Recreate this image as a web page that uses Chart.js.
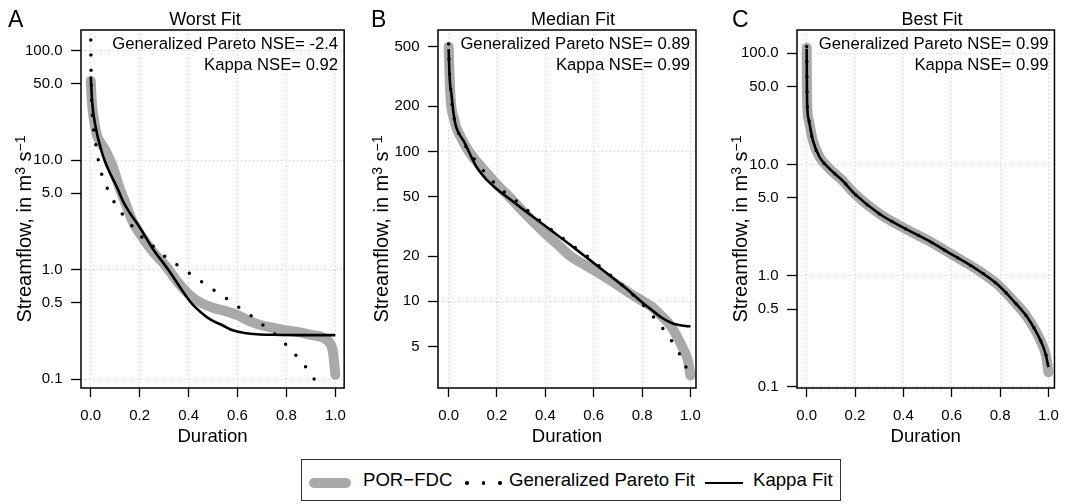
<!DOCTYPE html>
<html>
<head>
<meta charset="utf-8">
<script src="https://cdn.jsdelivr.net/npm/chart.js@4.4.1/dist/chart.umd.min.js"></script>
<style>
  body { margin: 0; background: #fff; }
  #wrap { position: relative; width: 1070px; height: 504px; overflow: hidden; background: #fff;
          font-family: "Liberation Sans", Arial, sans-serif; color: #000; }
  #wrap canvas { position: absolute; top: 0; }
  .ytitle { position: absolute; width: 240px; height: 24px; line-height: 24px; text-align: center;
            font-size: 20px; white-space: nowrap; transform: rotate(-90deg); transform-origin: 50% 50%; }
  .ytitle sup { font-size: 0.7em; line-height: 0; vertical-align: 0.45em; }
  #legend { position: absolute; left: 301px; top: 459px; width: 538px; height: 40px;
            border: 1.5px solid #333; font-size: 18.6px; }
  #legend span { position: absolute; top: 0; line-height: 40px; white-space: nowrap; }
  #legend .gray { top: 17.8px; height: 10px; width: 42px; border-radius: 5px; background: #a9a9a9; }
  #legend .dot { top: 21px; width: 3.5px; height: 3.5px; border-radius: 50%; background: #000; }
  #legend .solid { top: 21.5px; height: 2.6px; width: 38px; background: #000; }
</style>
</head>
<body>
<div id="wrap">
  <canvas id="chartA"></canvas>
  <canvas id="chartB"></canvas>
  <canvas id="chartC"></canvas>
  <div class="ytitle" style="left:-96px; top:217px">Streamflow, in m<sup>3</sup> s<sup>−1</sup></div>
  <div class="ytitle" style="left:261px; top:217px">Streamflow, in m<sup>3</sup> s<sup>−1</sup></div>
  <div class="ytitle" style="left:620px; top:217px">Streamflow, in m<sup>3</sup> s<sup>−1</sup></div>
  <div id="legend">
    <span class="gray" style="left:7px"></span>
    <span style="left:61px">POR−FDC</span>
    <span class="dot" style="left:163.2px"></span>
    <span class="dot" style="left:179.7px"></span>
    <span class="dot" style="left:196.2px"></span>
    <span style="left:207px">Generalized Pareto Fit</span>
    <span class="solid" style="left:403px"></span>
    <span style="left:451px">Kappa Fit</span>
  </div>
</div>
<script>
// ---------------- DATA ----------------
const durationTicks = [0, 0.2, 0.4, 0.6, 0.8, 1.0];
const durationTickLabels = ['0.0', '0.2', '0.4', '0.6', '0.8', '1.0'];

// Panel A - Worst Fit
const worstFlowTicks = [0.1, 0.5, 1, 5, 10, 50, 100];
const worstFlowTickLabels = ['0.1', '0.5', '1.0', '5.0', '10.0', '50.0', '100.0'];
const worstPorDur  = [0.000, 0.004, 0.015, 0.025, 0.040, 0.060, 0.090, 0.116, 0.143, 0.170, 0.200, 0.250, 0.310, 0.350, 0.400, 0.450, 0.500, 0.550, 0.600, 0.650, 0.700, 0.750, 0.800, 0.850, 0.900, 0.950, 0.980, 0.990, 1.000];
const worstPorFlow = [53, 35, 22, 17, 14.5, 12.3, 8.7, 5.7, 4.0, 2.8, 2.15, 1.5, 1.06, 0.8, 0.6, 0.5, 0.45, 0.42, 0.385, 0.34, 0.31, 0.295, 0.28, 0.27, 0.255, 0.24, 0.21, 0.18, 0.11];
const worstGpDur   = [0.000, 0.001, 0.003, 0.005, 0.009, 0.019, 0.029, 0.045, 0.070, 0.100, 0.137, 0.177, 0.217, 0.264, 0.308, 0.357, 0.403, 0.452, 0.500, 0.549, 0.596, 0.643, 0.690, 0.735, 0.779, 0.822, 0.862, 0.900, 0.933];
const worstGpFlow  = [125, 70, 40, 29, 21.6, 14.7, 10.5, 7.4, 5.4, 4.0, 3.05, 2.39, 1.91, 1.58, 1.30, 1.09, 0.93, 0.78, 0.66, 0.56, 0.47, 0.40, 0.33, 0.28, 0.228, 0.182, 0.144, 0.112, 0.0845];
const worstKapDur  = [0.000, 0.005, 0.020, 0.040, 0.056, 0.080, 0.110, 0.130, 0.160, 0.200, 0.250, 0.317, 0.360, 0.410, 0.450, 0.490, 0.540, 0.580, 0.630, 0.680, 0.750, 0.850, 1.000];
const worstKapFlow = [58, 35, 20, 13, 10, 7.5, 5.5, 4.3, 3.3, 2.44, 1.6, 1.0, 0.72, 0.5, 0.41, 0.35, 0.31, 0.28, 0.265, 0.258, 0.255, 0.253, 0.253];

// Panel B - Median Fit
const medianFlowTicks = [5, 10, 20, 50, 100, 200, 500];
const medianFlowTickLabels = ['5', '10', '20', '50', '100', '200', '500'];
const medianPorDur  = [0.000, 0.003, 0.006, 0.011, 0.020, 0.031, 0.050, 0.084, 0.120, 0.158, 0.200, 0.250, 0.300, 0.350, 0.400, 0.450, 0.505, 0.550, 0.600, 0.639, 0.700, 0.750, 0.786, 0.840, 0.880, 0.920, 0.950, 0.970, 0.990, 1.000];
const medianPorFlow = [500, 350, 260, 200, 170, 146, 125, 100, 84, 71.6, 60, 50, 41, 34, 28.3, 24, 20, 18, 16.2, 14.8, 12.8, 11.3, 10.4, 9.2, 8.0, 6.8, 5.6, 4.8, 4.0, 3.2];
const medianGpDur   = [0.000, 0.002, 0.004, 0.008, 0.015, 0.030, 0.060, 0.094, 0.131, 0.171, 0.211, 0.255, 0.298, 0.389, 0.436, 0.483, 0.529, 0.575, 0.620, 0.664, 0.709, 0.753, 0.796, 0.835, 0.874, 0.910, 0.945, 0.975, 1.000];
const medianGpFlow  = [520, 400, 330, 270, 200, 150, 116, 95, 78.5, 66.2, 56.8, 50, 44.2, 33.3, 29.1, 25.6, 22.5, 19.9, 17.4, 15.2, 13.2, 11.4, 9.75, 8.3, 6.97, 5.83, 4.76, 3.85, 3.06];
const medianKapDur  = [0.000, 0.003, 0.007, 0.011, 0.020, 0.031, 0.064, 0.115, 0.160, 0.200, 0.250, 0.300, 0.350, 0.400, 0.450, 0.500, 0.560, 0.620, 0.694, 0.750, 0.800, 0.850, 0.880, 0.920, 0.947, 0.980, 1.000];
const medianKapFlow = [480, 340, 270, 244, 180, 146, 116, 79, 64, 56, 48.5, 42, 36.5, 31.8, 27.6, 24, 20.2, 17, 13.7, 11.6, 9.85, 8.5, 7.8, 7.2, 6.97, 6.85, 6.8];

// Panel C - Best Fit
const bestFlowTicks = [0.1, 0.5, 1, 5, 10, 50, 100];
const bestFlowTickLabels = ['0.1', '0.5', '1.0', '5.0', '10.0', '50.0', '100.0'];
const bestPorDur  = [0.000, 0.001, 0.002, 0.009, 0.025, 0.053, 0.093, 0.147, 0.200, 0.300, 0.400, 0.500, 0.600, 0.700, 0.790, 0.856, 0.910, 0.950, 0.977, 0.990, 1.000];
const bestPorFlow = [112, 50, 35, 25, 16.6, 11.7, 9.2, 7.2, 5.4, 3.6, 2.7, 2.08, 1.55, 1.15, 0.83, 0.59, 0.43, 0.31, 0.233, 0.19, 0.135];
const bestGpDur   = [0.000, 0.001, 0.002, 0.009, 0.025, 0.053, 0.093, 0.147, 0.200, 0.300, 0.400, 0.500, 0.600, 0.700, 0.790, 0.856, 0.910, 0.950, 0.977, 0.990, 1.000];
const bestGpFlow  = [115, 50, 35, 25, 16.6, 11.7, 9.2, 7.2, 5.4, 3.6, 2.7, 2.08, 1.55, 1.15, 0.83, 0.59, 0.43, 0.31, 0.235, 0.195, 0.16];
const bestKapDur  = [0.000, 0.001, 0.002, 0.009, 0.025, 0.053, 0.093, 0.147, 0.200, 0.300, 0.400, 0.500, 0.600, 0.700, 0.790, 0.856, 0.910, 0.950, 0.977, 0.990, 1.000];
const bestKapFlow = [110, 50, 35, 25, 16.6, 11.7, 9.2, 7.2, 5.4, 3.6, 2.7, 2.08, 1.55, 1.15, 0.83, 0.59, 0.43, 0.31, 0.233, 0.19, 0.15];

// ---------------- LAYOUT / STYLE ----------------
const FONT = '"Liberation Sans", Arial, sans-serif';
const CANVAS_H = 450, Y_AXIS_W = 81, X_AXIS_H = 62, PLOT_TOP = 30;

const panels = [
  { id: 'chartA', boxLeft: 81, boxRight: 349, letter: 'A', letterX: 8, title: 'Worst Fit', titleX: 205,
    xMin: -0.04, xMax: 1.036, yMin: 0.0833, yMax: 154.5,
    ticks: worstFlowTicks, tickLabels: worstFlowTickLabels,
    notes: ['Generalized Pareto NSE= -2.4', 'Kappa NSE= 0.92'],
    por: [worstPorDur, worstPorFlow], gp: [worstGpDur, worstGpFlow], kap: [worstKapDur, worstKapFlow] },
  { id: 'chartB', boxLeft: 438, boxRight: 704, letter: 'B', letterX: 371, title: 'Median Fit', titleX: 573,
    xMin: -0.044, xMax: 1.023, yMin: 2.64, yMax: 646,
    ticks: medianFlowTicks, tickLabels: medianFlowTickLabels,
    notes: ['Generalized Pareto NSE= 0.89', 'Kappa NSE= 0.99'],
    por: [medianPorDur, medianPorFlow], gp: [medianGpDur, medianGpFlow], kap: [medianKapDur, medianKapFlow] },
  { id: 'chartC', boxLeft: 797, boxRight: 1062, letter: 'C', letterX: 732, title: 'Best Fit', titleX: 932,
    xMin: -0.04, xMax: 1.025, yMin: 0.0973, yMax: 162,
    ticks: bestFlowTicks, tickLabels: bestFlowTickLabels,
    notes: ['Generalized Pareto NSE= 0.99', 'Kappa NSE= 0.99'],
    por: [bestPorDur, bestPorFlow], gp: [bestGpDur, bestGpFlow], kap: [bestKapDur, bestKapFlow] }
];

const toPoints = ([xs, ys]) => xs.map((x, i) => ({ x: x, y: ys[i] }));
const isDecade = v => Math.abs(Math.log10(v) - Math.round(Math.log10(v))) < 1e-9;

const panelText = {
  id: 'panelText',
  afterDraw(chart, args, o) {
    const { ctx, chartArea: a } = chart;
    ctx.save();
    ctx.strokeStyle = '#000';
    ctx.lineWidth = 1.5;
    ctx.strokeRect(a.left, a.top, a.right - a.left, a.bottom - a.top);
    ctx.fillStyle = '#000';
    ctx.textBaseline = 'alphabetic';
    ctx.font = '23px ' + FONT;
    ctx.textAlign = 'left';
    ctx.fillText(o.letter, o.letterX, 27);
    ctx.font = '18px ' + FONT;
    ctx.textAlign = 'center';
    ctx.fillText(o.title, o.titleX, 25);
    ctx.font = '16.7px ' + FONT;
    ctx.textAlign = 'right';
    o.notes.forEach((t, i) => ctx.fillText(t, a.right - 6, 48.5 + i * 21.5));
    ctx.restore();
  }
};

panels.forEach(p => {
  const canvasLeft = p.boxLeft - Y_AXIS_W;
  const canvasW = Math.min(1070, p.boxRight + 7) - canvasLeft;
  const cv = document.getElementById(p.id);
  cv.width = canvasW; cv.height = CANVAS_H;
  cv.style.left = canvasLeft + 'px';
  cv.style.width = canvasW + 'px'; cv.style.height = CANVAS_H + 'px';

  new Chart(cv, {
    type: 'line',
    data: {
      datasets: [
        { label: 'POR-FDC', data: toPoints(p.por), order: 3, borderColor: '#a9a9a9', borderWidth: 10,
          borderCapStyle: 'round', borderJoinStyle: 'round', pointRadius: 0, cubicInterpolationMode: 'monotone' },
        { label: 'Generalized Pareto Fit', data: toPoints(p.gp), order: 2, borderColor: '#000', borderWidth: 3.5,
          borderDash: [0, 15], borderCapStyle: 'round', pointRadius: 0, cubicInterpolationMode: 'monotone' },
        { label: 'Kappa Fit', data: toPoints(p.kap), order: 1, borderColor: '#000', borderWidth: 2.6,
          borderCapStyle: 'butt', pointRadius: 0, cubicInterpolationMode: 'monotone' }
      ]
    },
    options: {
      responsive: false, animation: false, events: [], devicePixelRatio: 1,
      layout: { padding: { top: PLOT_TOP, left: 0, bottom: 0, right: canvasW - (p.boxRight - canvasLeft) } },
      plugins: { legend: { display: false }, tooltip: { enabled: false },
                 panelText: { letter: p.letter, letterX: p.letterX - canvasLeft, title: p.title,
                              titleX: p.titleX - canvasLeft, notes: p.notes } },
      scales: {
        x: {
          type: 'linear', min: p.xMin, max: p.xMax,
          afterBuildTicks: s => { s.ticks = durationTicks.map(v => ({ value: v })); },
          afterFit: s => { s.height = X_AXIS_H; },
          ticks: { callback: (v, i) => durationTickLabels[i], font: { family: FONT, size: 15 }, color: '#000',
                   padding: 10, maxRotation: 0, autoSkip: false },
          grid: { color: '#cfcfcf', lineWidth: 1, drawTicks: true, tickLength: 9, tickColor: '#000', tickWidth: 1.3 },
          border: { display: false, dash: [1, 3] },
          title: { display: true, text: 'Duration', color: '#000', font: { family: FONT, size: 18.6 },
                   padding: { top: 0, bottom: 2 } }
        },
        y: {
          type: 'logarithmic', min: p.yMin, max: p.yMax,
          afterBuildTicks: s => { s.ticks = p.ticks.map(v => ({ value: v })); },
          afterFit: s => { s.width = Y_AXIS_W; },
          ticks: { callback: (v, i) => p.tickLabels[i], font: { family: FONT, size: 15 }, color: '#000',
                   padding: 8.5, autoSkip: false },
          grid: { color: c => (c.tick && isDecade(c.tick.value)) ? '#cfcfcf' : 'rgba(0,0,0,0)', lineWidth: 1,
                  drawTicks: true, tickLength: 10, tickColor: '#000', tickWidth: 1.3 },
          border: { display: false, dash: [1, 3] },
          title: { display: false }
        }
      }
    },
    plugins: [panelText]
  });
});
</script>
</body>
</html>
